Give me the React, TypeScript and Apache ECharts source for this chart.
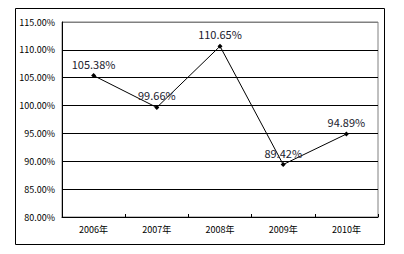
import React, { useEffect, useRef } from "react";
import * as echarts from "echarts";

const categories = ["2006年", "2007年", "2008年", "2009年", "2010年"];
const values = [105.38, 99.66, 110.65, 89.42, 94.89];
const yMin = 80;
const yMax = 115;
const yStep = 5;

const FONT = "'Noto Sans CJK SC', 'DejaVu Sans', sans-serif";

export default function App() {
  const ref = useRef<HTMLDivElement>(null);
  useEffect(() => {
    if (!ref.current) return;
    const chart = echarts.init(ref.current, null, { renderer: "svg" });
    chart.setOption({
      animation: false,
      backgroundColor: "#ffffff",
      graphic: [
        {
          type: "rect",
          z: -10,
          shape: { x: 15.5, y: 8.5, width: 369, height: 236 },
          style: { fill: "#ffffff", stroke: "#000000", lineWidth: 1 },
        },
      ],
      grid: {
        left: 62,
        top: 22,
        right: 26,
        bottom: 37,
        show: true,
        borderColor: "#808080",
        borderWidth: 1,
        backgroundColor: "transparent",
      },
      xAxis: {
        type: "category",
        data: categories,
        boundaryGap: true,
        axisLine: { show: true, lineStyle: { color: "#000", width: 1 } },
        axisTick: { show: true, inside: true, length: 3, lineStyle: { color: "#000" } },
        axisLabel: { color: "#000", fontSize: 9, fontFamily: FONT, margin: 8 },
        splitLine: { show: false },
      },
      yAxis: {
        type: "value",
        min: yMin,
        max: yMax,
        interval: yStep,
        axisLine: { show: true, lineStyle: { color: "#000", width: 1 } },
        axisTick: { show: false },
        axisLabel: {
          color: "#000",
          fontSize: 9,
          fontFamily: FONT,
          margin: 7,
          formatter: (v: number) => v.toFixed(2) + "%",
        },
        splitLine: {
          show: true,
          lineStyle: {
            color: ["#000", "#000", "#000", "#000", "#000", "#000", "#000", "#808080"],
            width: 1,
          },
        },
      },
      series: [
        {
          type: "line",
          data: values,
          symbol: "diamond",
          symbolSize: 5,
          itemStyle: { color: "#000" },
          lineStyle: { color: "#000", width: 1 },
          label: {
            show: true,
            position: "top",
            distance: 4,
            color: "#1a1a2e",
            fontSize: 11,
            fontFamily: FONT,
            formatter: (p: any) => p.value.toFixed(2) + "%",
          },
        },
      ],
    });
    return () => chart.dispose();
  }, []);
  return (
    <div
      ref={ref}
      style={{ position: "absolute", left: 0, top: 0, width: 404, height: 254 }}
    />
  );
}
